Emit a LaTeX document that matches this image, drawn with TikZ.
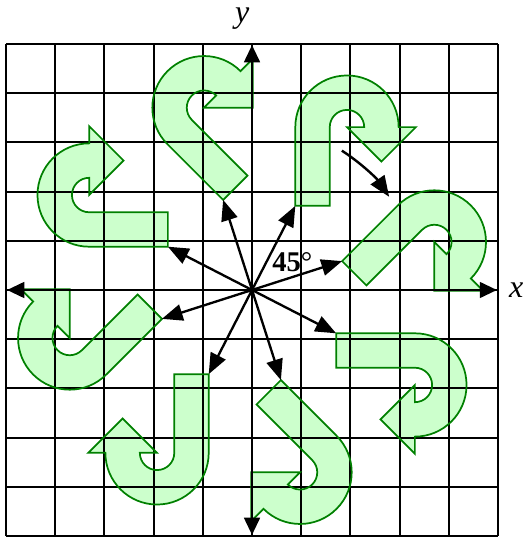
\documentclass[tikz,border=0pt]{standalone}
\usepackage{fontspec}
\setmainfont{Liberation Serif}
\usetikzlibrary{arrows.meta}
\definecolor{hookfill}{RGB}{204,255,204}
\definecolor{hookline}{RGB}{0,128,0}
\newcommand\hookshape[1]{%
  \path[#1] (0.88,1.71) -- (1.58,1.71) -- (1.58,3.31)
    arc[start angle=180,end angle=0,radius=0.35] -- (1.93,3.31)
    -- (2.63,2.61) -- (3.33,3.31) -- (2.98,3.31)
    arc[start angle=0,end angle=180,radius=1.05] -- cycle;}
\begin{document}
\begin{tikzpicture}[
  gridline/.style={line width=1.2pt, black},
  axisline/.style={line width=1.7pt, {Triangle[length=10pt,width=9pt]}-{Triangle[length=10pt,width=9pt]}},
  vecarrow/.style={line width=1.35pt, -{Triangle[length=12pt,width=9.5pt]}},
  turnarrow/.style={line width=1.4pt, -{Triangle[length=12pt,width=9.5pt]}},
  axislabel/.style={font=\fontsize{18.5}{22}\selectfont\itshape, anchor=base, inner sep=0pt},
  anglelabel/.style={font=\fontsize{16.5}{19}\selectfont, inner sep=0pt},
]
\useasboundingbox (-5.122,-5.02) rectangle (5.528,5.894);
\coordinate (O) at (0,0);
% fills
\foreach \ang in {0,45,...,315}{
  \begin{scope}[rotate=\ang]
    \hookshape{fill=hookfill}
  \end{scope}
}
% grid
\draw[gridline] (-5,-5) grid (5,5);
% outlines
\foreach \ang in {0,45,...,315}{
  \begin{scope}[rotate=\ang]
    \hookshape{draw=hookline, line width=1pt, line join=miter}
  \end{scope}
}
% axes
\coordinate (xl) at (-4.98,0);
\coordinate (xr) at (4.98,0);
\coordinate (yb) at (0,-4.98);
\coordinate (yt) at (0,4.98);
\draw[axisline] (xl) -- (xr);
\draw[axisline] (yb) -- (yt);
\node[axislabel] (xlab) at (5.37,-0.16) {x};
\node[axislabel] (ylab) at (-0.2,5.43) {y};
% vectors to hook corners
\foreach \ang in {0,45,...,315}{
  \coordinate (tip\ang) at (\ang+62.77:1.9232);
  \draw[vecarrow] (O) -- (tip\ang);
}
% rotation direction
\coordinate (rs) at (57.2:3.37);
\draw[turnarrow] (rs) arc[start angle=57.2,end angle=34.2,radius=3.37];
\node[anglelabel] (ang) at (0.82,0.56) {\textbf{45}°};
\end{tikzpicture}
\end{document}
